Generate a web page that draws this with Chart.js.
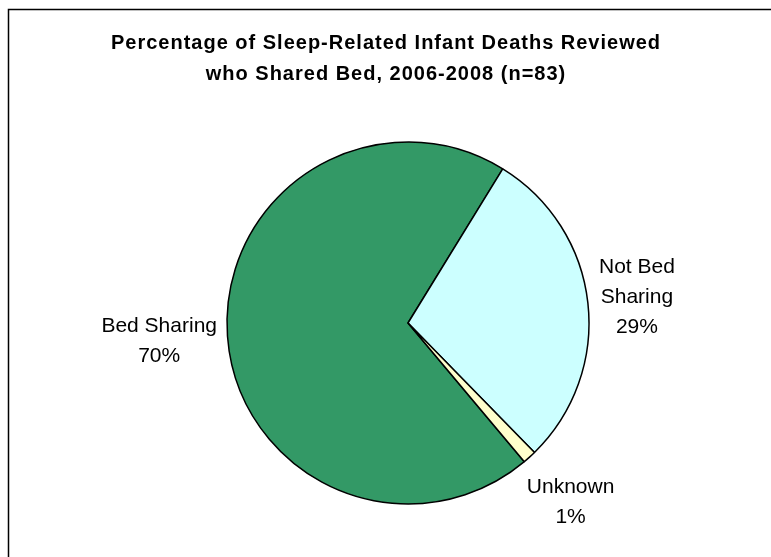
<!DOCTYPE html>
<html>
<head>
<meta charset="utf-8">
<title>Sleep-Related Infant Deaths: Bed Sharing</title>
<script src="https://cdn.jsdelivr.net/npm/chart.js@4/dist/chart.umd.min.js"></script>
<style>
  html, body { margin: 0; padding: 0; background: #ffffff; }
  #wrap { width: 771px; height: 557px; position: relative; }
</style>
</head>
<body>
<div id="wrap"><canvas id="pie" width="771" height="557"></canvas></div>
<script>
// Sleep-related infant deaths reviewed 2006-2008, n = 83
const titleLines = ['Percentage of Sleep-Related Infant Deaths Reviewed', 'who Shared Bed, 2006-2008 (n=83)'];
const categories = ['Bed Sharing', 'Not Bed Sharing', 'Unknown'];
const deathCounts = [58, 24, 1];
const sliceColors = ['#339966', '#CCFFFF', '#FFFFCC'];

const FONT = '"Liberation Sans", Arial, sans-serif';
const total = deathCounts.reduce((a, b) => a + b, 0);
const pctText = v => Math.round(v / total * 100) + '%';

// Greedy word wrap for the data labels
function wrapWords(ctx, text, maxW) {
  const words = text.split(' ');
  const lines = [];
  let cur = '';
  for (const w of words) {
    const test = cur ? cur + ' ' + w : w;
    if (cur && ctx.measureText(test).width > maxW) { lines.push(cur); cur = w; }
    else cur = test;
  }
  if (cur) lines.push(cur);
  return lines;
}

// distance from the origin to an axis-aligned box centred at (cx, cy)
function boxDist(cx, cy, hw, hh) {
  const ex = Math.max(Math.abs(cx) - hw, 0);
  const ey = Math.max(Math.abs(cy) - hh, 0);
  return Math.hypot(ex, ey);
}

const decorPlugin = {
  id: 'decor',
  beforeDraw(chart) {
    const ctx = chart.ctx;
    ctx.save();
    // chart frame (left and top edges)
    ctx.strokeStyle = '#000000';
    ctx.lineWidth = 1.5;
    ctx.beginPath();
    ctx.moveTo(8.5, chart.height + 2);
    ctx.lineTo(8.5, 9.5);
    ctx.lineTo(chart.width + 2, 9.5);
    ctx.stroke();
    // title
    ctx.fillStyle = '#000000';
    ctx.font = 'bold 20px ' + FONT;
    if ('letterSpacing' in ctx) ctx.letterSpacing = '1px';
    ctx.textAlign = 'center';
    ctx.textBaseline = 'alphabetic';
    titleLines.forEach((t, i) => ctx.fillText(t, 386, 49 + i * 31));
    ctx.restore();
  },
  afterDatasetsDraw(chart) {
    const ctx = chart.ctx;
    const meta = chart.getDatasetMeta(0);
    const values = chart.data.datasets[0].data;
    ctx.save();
    ctx.font = '21px ' + FONT;
    ctx.fillStyle = '#000000';
    ctx.textAlign = 'center';
    ctx.textBaseline = 'middle';
    const lineH = 30;
    const gap = 10;
    meta.data.forEach((arc, i) => {
      const p = arc.getProps(['x', 'y', 'startAngle', 'endAngle', 'outerRadius'], true);
      const mid = (p.startAngle + p.endAngle) / 2;
      const dx = Math.cos(mid), dy = Math.sin(mid);
      const lines = wrapWords(ctx, chart.data.labels[i], 125);
      lines.push(pctText(values[i]));
      const w = Math.max(...lines.map(l => ctx.measureText(l).width));
      const h = lines.length * lineH;
      // push the label box outward until its nearest point clears the slice edge
      const target = p.outerRadius + gap;
      let lo = 0, hi = p.outerRadius * 3;
      for (let k = 0; k < 40; k++) {
        const t = (lo + hi) / 2;
        if (boxDist(dx * t, dy * t, w / 2, h / 2) < target) lo = t; else hi = t;
      }
      const cx = p.x + dx * hi;
      const cy = p.y + dy * hi;
      lines.forEach((l, k) => {
        ctx.fillText(l, cx, cy - h / 2 + lineH / 2 + k * lineH);
      });
    });
    ctx.restore();
  }
};

new Chart(document.getElementById('pie'), {
  type: 'pie',
  data: {
    labels: categories,
    datasets: [{
      data: deathCounts,
      backgroundColor: sliceColors,
      borderColor: '#000000',
      borderWidth: 1.5,
      hoverBorderWidth: 1.5,
      radius: 181,
      rotation: 140
    }]
  },
  options: {
    responsive: false,
    animation: false,
    events: [],
    layout: { padding: { left: 45, right: 0, top: 89, bottom: 0 } },
    plugins: {
      legend: { display: false },
      title: { display: false },
      tooltip: { enabled: false }
    }
  },
  plugins: [decorPlugin]
});
</script>
</body>
</html>
